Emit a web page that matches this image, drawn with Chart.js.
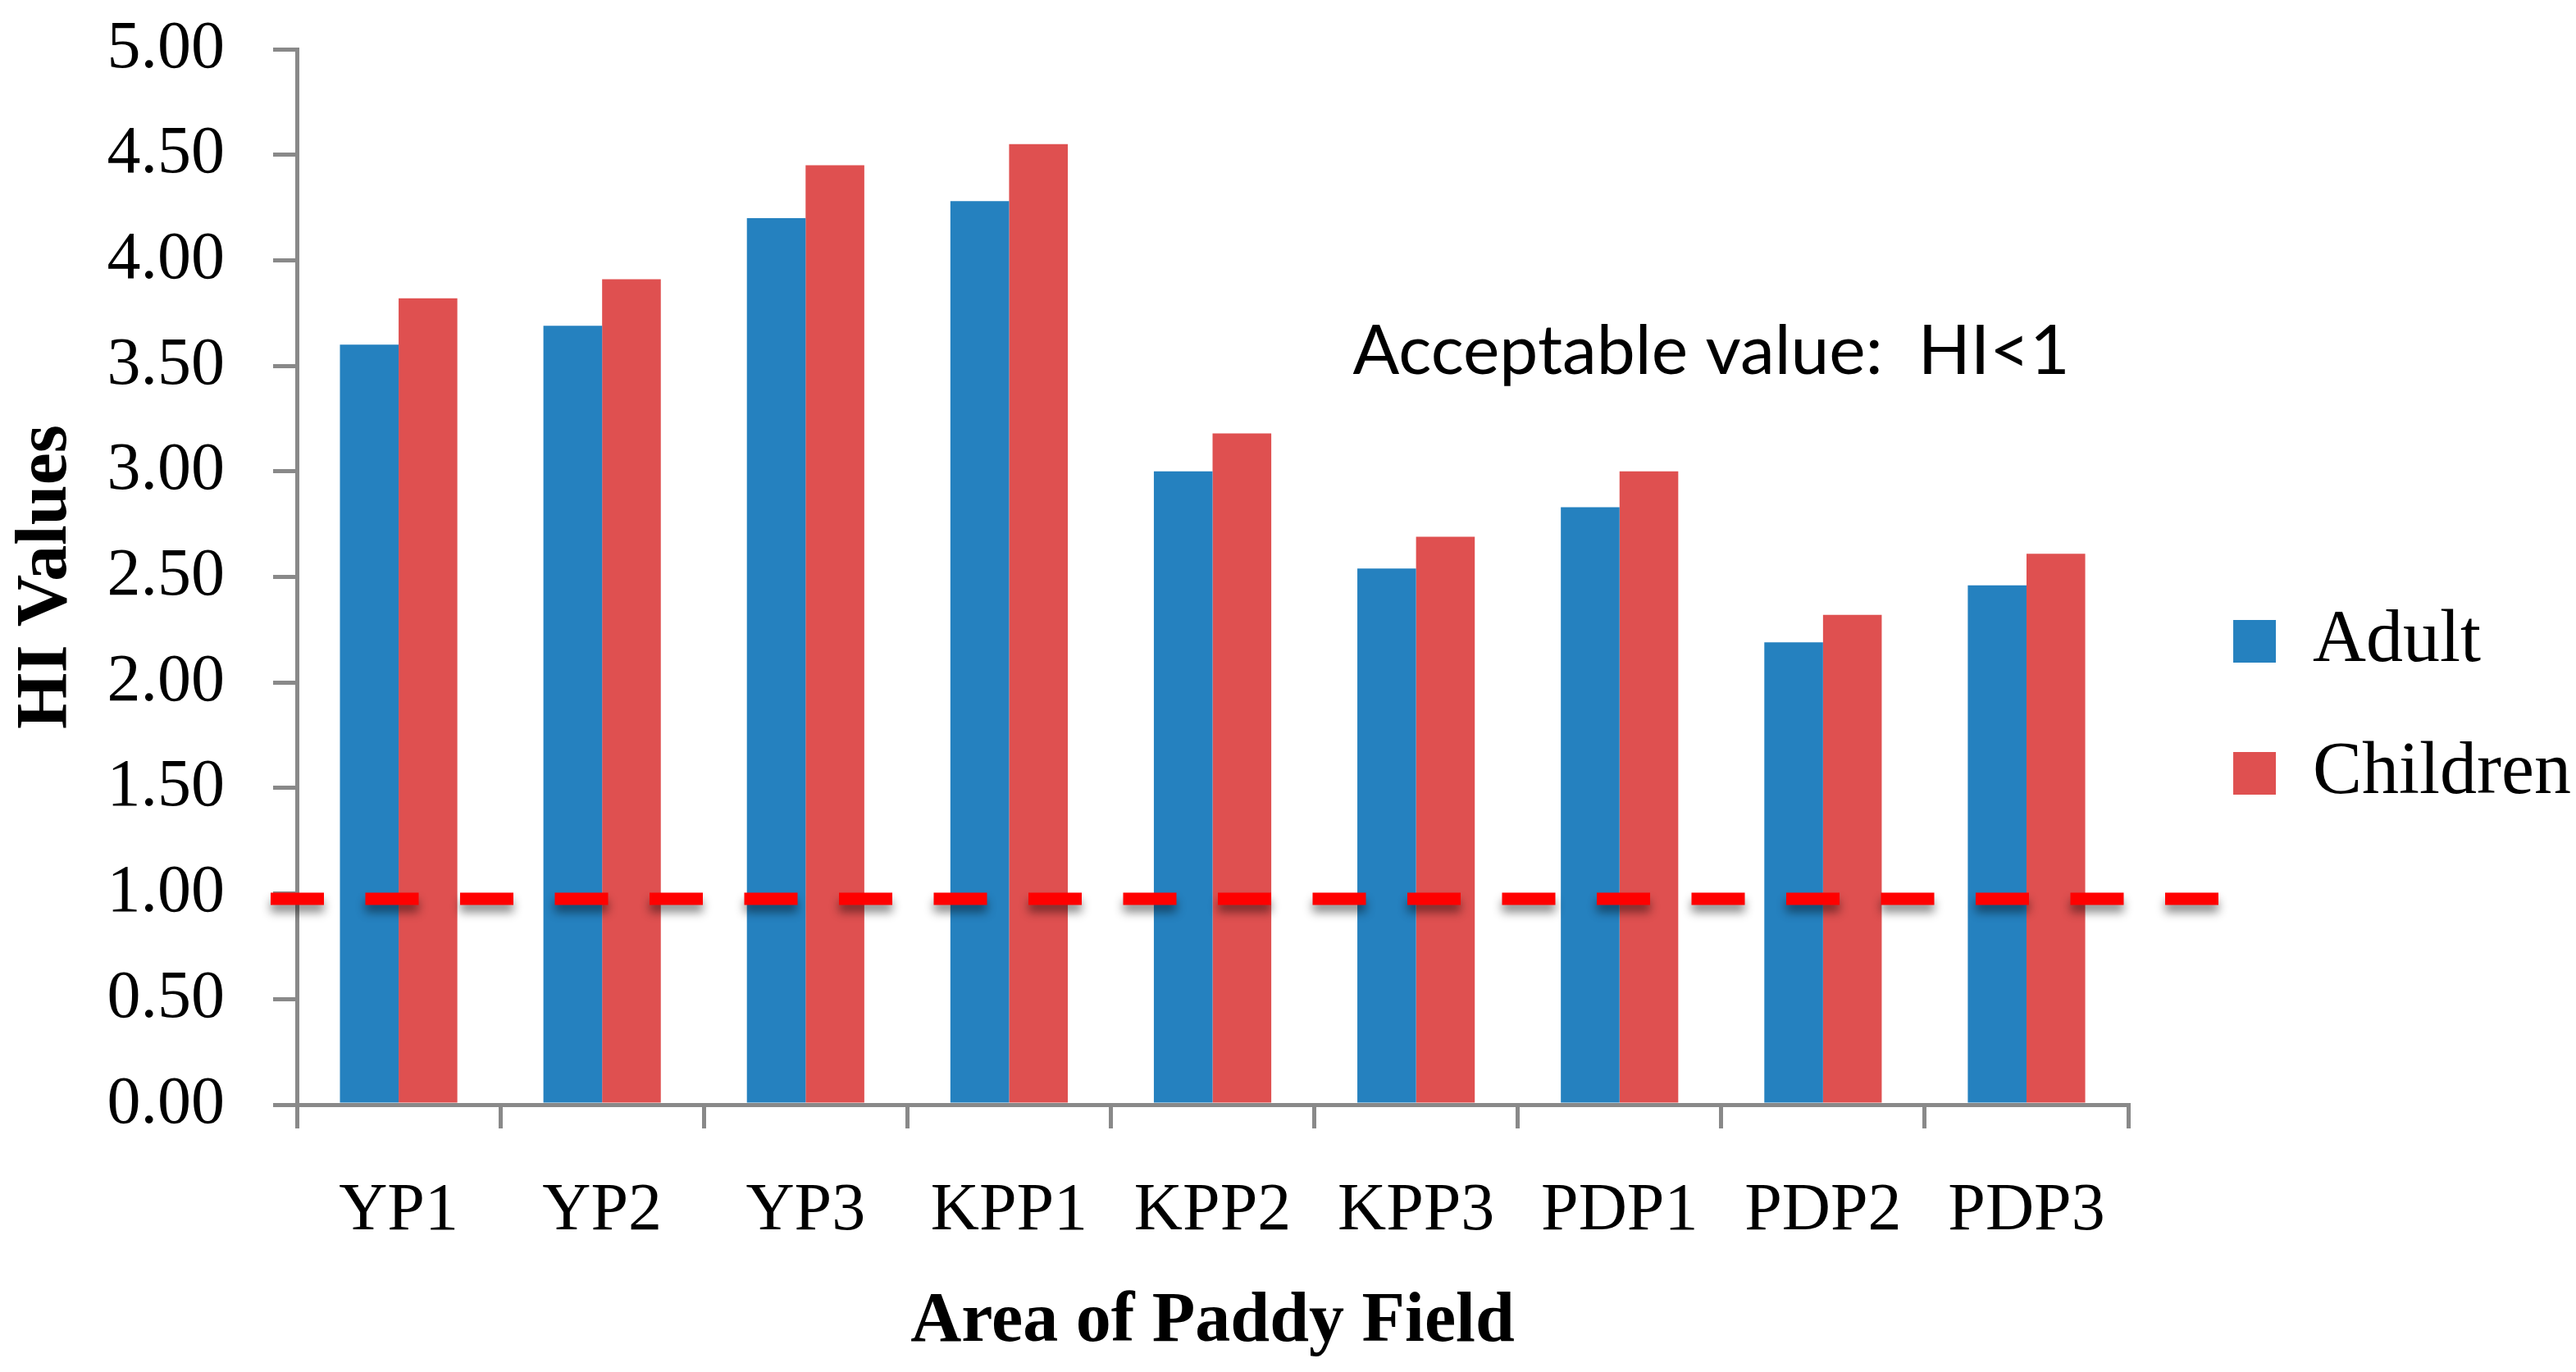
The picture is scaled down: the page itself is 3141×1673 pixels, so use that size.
<!DOCTYPE html>
<html><head><meta charset="utf-8">
<script src="https://cdn.jsdelivr.net/npm/chart.js@4"></script>
<style>html,body{margin:0;padding:0;background:#fff;} canvas{display:block;}</style>
</head><body>
<canvas id="c" width="3141" height="1673"></canvas>
<script>
const categories = ['YP1','YP2','YP3','KPP1','KPP2','KPP3','PDP1','PDP2','PDP3'];
const adultValues = [3.60, 3.69, 4.20, 4.28, 3.00, 2.54, 2.83, 2.19, 2.46];
const childrenValues = [3.82, 3.91, 4.45, 4.55, 3.18, 2.69, 3.00, 2.32, 2.61];
const yTickValues = [0, 0.5, 1, 1.5, 2, 2.5, 3, 3.5, 4, 4.5, 5];
const thresholdValue = 0.975;
const annotationText = 'Acceptable value:  HI<1';

const legendPos = {
  id: 'legendPos',
  beforeDraw(chart) {
    const lg = chart.legend;
    const pad = lg.options.labels.padding;
    const w = lg.width;
    lg.left = chart.chartArea.right + 128 - pad;
    lg.right = lg.left + w;
    lg.top = chart.chartArea.top + 606;
    lg.bottom = chart.height;
  }
};

const refLine = {
  id: 'refLine',
  afterDatasetsDraw(chart) {
    const {ctx, chartArea, scales: {y}} = chart;
    const py = y.getPixelForValue(thresholdValue);
    ctx.save();
    ctx.strokeStyle = '#FF0000';
    ctx.lineWidth = 15;
    ctx.lineCap = 'butt';
    ctx.setLineDash([65, 50.5]);
    ctx.shadowColor = 'rgba(0,0,0,0.45)';
    ctx.shadowBlur = 12;
    ctx.shadowOffsetY = 9;
    ctx.beginPath();
    ctx.moveTo(chartArea.left - 32, py);
    ctx.lineTo(chartArea.right + 112, py);
    ctx.stroke();
    ctx.restore();
  }
};

const annot = {
  id: 'annot',
  afterDraw(chart) {
    const {ctx, chartArea, scales: {y}} = chart;
    ctx.save();
    ctx.font = '84px Lato';
    ctx.fillStyle = '#000';
    ctx.textAlign = 'left';
    ctx.textBaseline = 'alphabetic';
    ctx.fillText(annotationText, chartArea.left + 0.5766 * chartArea.width, y.getPixelForValue(3.46));
    ctx.restore();
  }
};

const axisGray = '#898989';
new Chart(document.getElementById('c'), {
  type: 'bar',
  data: {
    labels: categories,
    datasets: [
      {label: 'Adult', data: adultValues, backgroundColor: '#2581BF', borderWidth: 0},
      {label: 'Children', data: childrenValues, backgroundColor: '#DF5050', borderWidth: 0}
    ]
  },
  options: {
    responsive: false,
    devicePixelRatio: 1,
    animation: false,
    datasets: {bar: {categoryPercentage: 0.577, barPercentage: 1}},
    layout: {padding: {top: 60, left: 0, right: 53, bottom: 0}},
    plugins: {
      legend: {
        position: 'right', align: 'start',
        labels: {font: {family: 'Liberation Serif', size: 90}, color: '#000', boxWidth: 52, boxHeight: 52, padding: 71}
      },
      tooltip: {enabled: false}
    },
    scales: {
      x: {
        offset: true,
        grid: {offset: true, display: true, drawOnChartArea: false, drawTicks: true, tickLength: 29, color: axisGray, lineWidth: 5},
        border: {display: true, color: axisGray, width: 5},
        ticks: {font: {family: 'Liberation Serif', size: 82}, color: '#000', padding: 52, maxRotation: 0, autoSkip: false},
        title: {display: true, text: 'Area of Paddy Field', font: {family: 'Liberation Serif', size: 86, weight: 'bold'}, color: '#000', padding: {top: 0, bottom: 9}},
        afterFit(s) { s.height = 326; }
      },
      y: {
        min: 0, max: 5,
        afterBuildTicks(s) { s.ticks = yTickValues.map(v => ({value: v})); },
        ticks: {callback: v => Number(v).toFixed(2), font: {family: 'Liberation Serif', size: 82}, color: '#000', padding: 59},
        grid: {drawOnChartArea: false, drawTicks: true, tickLength: 29, color: axisGray, lineWidth: 5},
        border: {display: true, color: axisGray, width: 5},
        title: {display: true, text: 'HI Values', font: {family: 'Liberation Serif', size: 88, weight: 'bold'}, color: '#000', padding: {top: 4, bottom: 0}},
        afterFit(s) { s.width = 362; s.paddingTop = 0; s.paddingBottom = 0; }
      }
    }
  },
  plugins: [legendPos, refLine, annot]
});
</script>
</body></html>
